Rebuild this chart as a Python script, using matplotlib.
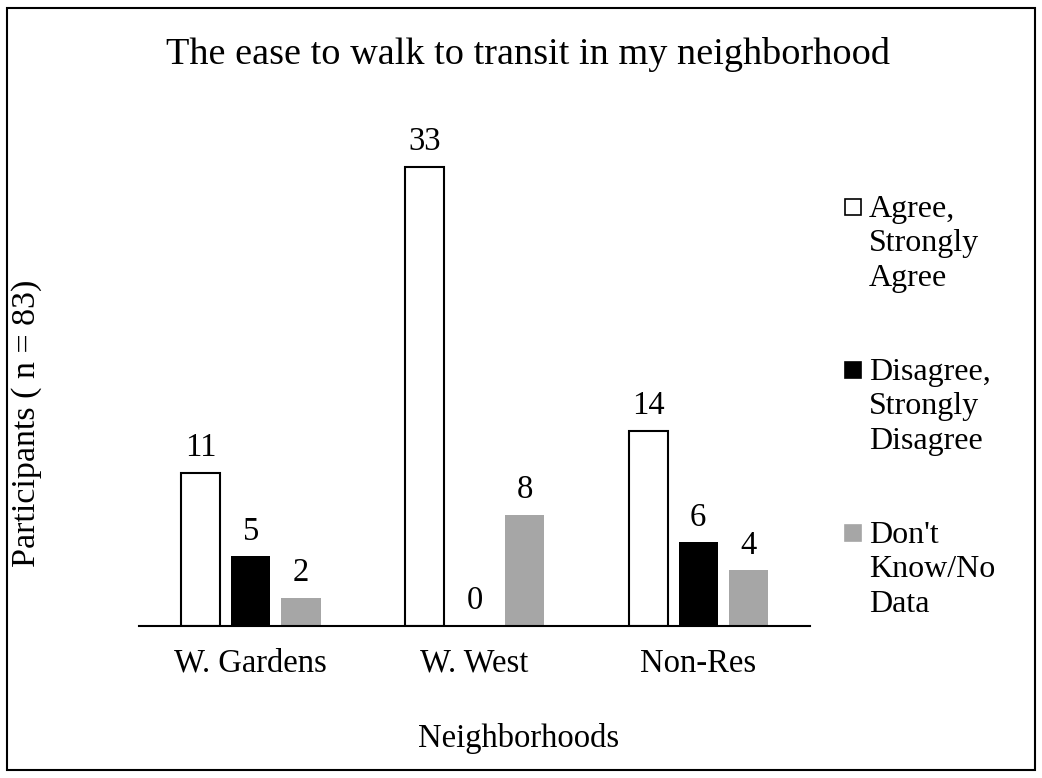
import numpy as np
import matplotlib.pyplot as plt
from matplotlib.patches import Rectangle

plt.rcParams['font.family'] = 'Liberation Serif'

# survey counts per neighborhood
neighborhoods = ['W. Gardens', 'W. West', 'Non-Res']
agree = [11, 33, 14]
disagree = [5, 0, 6]
dont_know = [2, 8, 4]

series = [
    ('Agree,\nStrongly\nAgree', agree, 'white'),
    ('Disagree,\nStrongly\nDisagree', disagree, 'black'),
    ("Don't\nKnow/No\nData", dont_know, '#a6a6a6'),
]

W, H = 1042, 778
fig = plt.figure(figsize=(W / 100, H / 100), dpi=100)
ax = fig.add_axes([0.1334, 0.1954, 0.644, 0.626])

x = np.arange(len(neighborhoods))
width = 0.175
step = 0.224
fs = 23.5

for i, (label, vals, color) in enumerate(series):
    edge = 'black' if color == 'white' else color
    bars = ax.bar(x + (i - 1) * step, vals, width, color=color, edgecolor=edge,
                  linewidth=1.5 if color == 'white' else 0, label=label)
    ax.bar_label(bars, labels=[str(v) for v in vals], padding=7, fontsize=fs)

ax.set_xlim(-0.5, 2.5)
ax.set_ylim(0, 35)
ax.set_xticks(x)
ax.set_xticklabels(neighborhoods, fontsize=fs)
ax.tick_params(axis='x', length=0, pad=16)
ax.set_yticks([])
for side in ['top', 'right', 'left']:
    ax.spines[side].set_visible(False)
ax.spines['bottom'].set_linewidth(1.5)

fig.text(528 / W, 1 - 55 / H, 'The ease to walk to transit in my neighborhood',
         fontsize=27.5, ha='center', va='center')
fig.text(519 / W, 1 - 738 / H, 'Neighborhoods', fontsize=fs,
         ha='center', va='center')
fig.text(27 / W, 1 - 423 / H, 'Participants ( n = 83)', rotation=90, fontsize=24.5,
         ha='center', va='center')

# legend: square key beside the first line of each label
for i, (label, vals, color) in enumerate(series):
    top = 199 + i * 163
    fig.patches.append(Rectangle((845 / W, 1 - (top + 16) / H), 16 / W, 16 / H,
                                 transform=fig.transFigure, facecolor=color,
                                 edgecolor='black' if color == 'white' else color,
                                 linewidth=1.2))
    fig.text(869 / W, 1 - (top - 4) / H, label, fontsize=23, ha='left', va='top',
             linespacing=1.24)

# frame round the whole figure
fig.patches.append(Rectangle((7 / W, 8 / H), 1 - 14 / W, 1 - 16 / H,
                             transform=fig.transFigure, fill=False,
                             edgecolor='black', linewidth=1.5))

fig.savefig('out.png', dpi=100)
